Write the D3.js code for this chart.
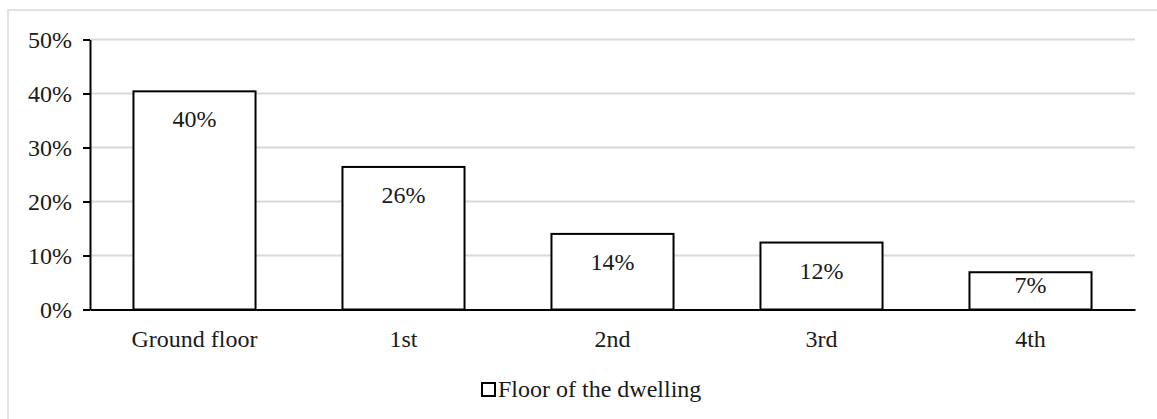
<!DOCTYPE html>
<html>
<head>
<meta charset="utf-8">
<script src="https://cdn.jsdelivr.net/npm/d3@7"></script>
<style>
  html, body { margin: 0; padding: 0; background: #fff; }
  svg { display: block; }
</style>
</head>
<body>
<svg id="chart" width="1157" height="419"></svg>
<script>
// Share of dwellings by floor
const categories = ["Ground floor", "1st", "2nd", "3rd", "4th"];
const shares = [40.4, 26.4, 14.0, 12.4, 6.9];
const yTicks = [0, 10, 20, 30, 40, 50];
const seriesName = "Floor of the dwelling";

const W = 1157, H = 419;
const plot = { left: 90, right: 1135, top: 39.5, bottom: 309.5 };
const fontSize = 24;
const serif = "Liberation Serif, Times New Roman, serif";
const ink = "#1a1a1a";

const svg = d3.select("#chart")
  .attr("font-family", serif)
  .attr("font-size", fontSize);

// outer frame (runs off the right and bottom edges)
svg.append("rect")
  .attr("x", 8).attr("y", 10)
  .attr("width", W + 10).attr("height", H + 10)
  .attr("fill", "#fff")
  .attr("stroke", "#d9d9d9")
  .attr("stroke-width", 1.5);

const x = d3.scaleBand()
  .domain(categories)
  .range([plot.left, plot.right])
  .paddingInner(0.416)
  .paddingOuter(0.208);

const y = d3.scaleLinear()
  .domain([0, 50])
  .range([plot.bottom, plot.top]);

// horizontal gridlines
svg.append("g")
  .selectAll("line")
  .data(yTicks.filter(t => t > 0))
  .join("line")
  .attr("x1", plot.left).attr("x2", plot.right)
  .attr("y1", d => y(d)).attr("y2", d => y(d))
  .attr("stroke", "#d9d9d9")
  .attr("stroke-width", 2);

// bars
svg.append("g")
  .selectAll("rect")
  .data(shares)
  .join("rect")
  .attr("x", (d, i) => x(categories[i]))
  .attr("y", d => y(d))
  .attr("width", x.bandwidth())
  .attr("height", d => y(0) - y(d))
  .attr("fill", "#fff")
  .attr("stroke", "#000")
  .attr("stroke-width", 2);

// value labels inside the top of each bar
svg.append("g")
  .selectAll("text")
  .data(shares)
  .join("text")
  .attr("x", (d, i) => x(categories[i]) + x.bandwidth() / 2)
  .attr("y", d => Math.min(y(d) + 36, y(0) - 17))
  .attr("text-anchor", "middle")
  .attr("fill", ink)
  .text(d => Math.round(d) + "%");

// y axis
const yAxis = svg.append("g")
  .attr("transform", `translate(${plot.left},0)`)
  .call(d3.axisLeft(y)
    .tickValues(yTicks)
    .tickSize(7)
    .tickSizeOuter(0)
    .tickPadding(11)
    .tickFormat(d => d + "%"))
  .attr("font-family", serif)
  .attr("font-size", fontSize);
yAxis.select(".domain").attr("stroke", "#000").attr("stroke-width", 2);
yAxis.selectAll(".tick line").attr("stroke", "#000").attr("stroke-width", 2);
yAxis.selectAll(".tick text").attr("fill", ink);

// x axis
const xAxis = svg.append("g")
  .attr("transform", `translate(0,${plot.bottom})`)
  .call(d3.axisBottom(x).tickSize(0).tickSizeOuter(0))
  .attr("font-family", serif)
  .attr("font-size", fontSize);
xAxis.select(".domain").attr("stroke", "#000").attr("stroke-width", 2);
xAxis.selectAll(".tick text")
  .attr("y", 37.2).attr("dy", 0)
  .attr("fill", ink);

// legend
const legend = svg.append("g");
legend.append("rect")
  .attr("x", 482).attr("y", 383)
  .attr("width", 13).attr("height", 13)
  .attr("fill", "#fff")
  .attr("stroke", "#000")
  .attr("stroke-width", 2);
legend.append("text")
  .attr("x", 498).attr("y", 396.7)
  .attr("fill", ink)
  .text(seriesName);
</script>
</body>
</html>
